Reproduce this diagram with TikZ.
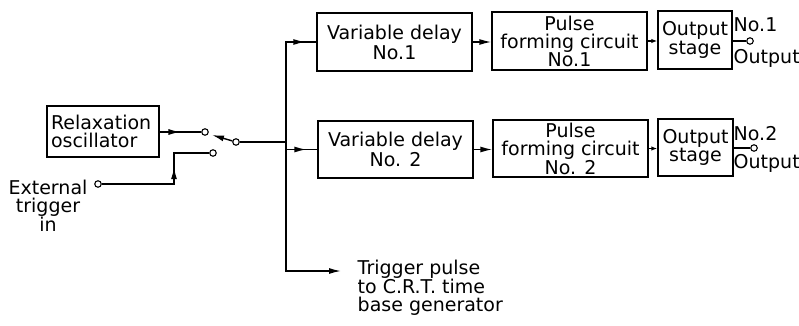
\documentclass[tikz,border=0pt]{standalone}
\usepackage{fontspec}
\setmainfont{DejaVu Sans}
\usetikzlibrary{arrows.meta,decorations.markings,calc}
\begin{document}
\begin{tikzpicture}[x=1pt,y=-1pt, line width=1.4pt,
  blk/.style={draw, rectangle, inner sep=0pt, align=center, font=\fontsize{19}{18.5}\selectfont},
  term/.style={circle, draw, line width=1.1pt, inner sep=0pt, minimum size=6.5pt, fill=white},
  txt/.style={inner sep=0pt, font=\fontsize{19}{18}\selectfont},
  tip/.style={-{Latex[length=12pt,width=6pt]}},
  smalltip/.style={-{Latex[length=6pt,width=4.5pt]}},
  midarrow/.style={decoration={markings, mark=at position #1 with {\arrow{Latex[length=12pt,width=6pt]}}}, postaction={decorate}}]
\useasboundingbox (0,0) rectangle (799,326);

% blocks
\node[blk, minimum width=112pt, minimum height=51pt, align=left, text width=104pt] (osc) at (103,131.5) {Relaxation\\oscillator};
\node[blk, minimum width=155pt, minimum height=58pt, font=\fontsize{19}{20}\selectfont] (vd1) at (394.5,42) {Variable delay\\No.1};
\node[blk, minimum width=155pt, minimum height=57pt, font=\fontsize{19}{20}\selectfont] (vd2) at (395.5,149.5) {Variable delay\\No. 2};
\node[blk, minimum width=155pt, minimum height=58pt, font=\fontsize{19}{18}\selectfont] (pf1) at (569.5,41) {Pulse\\forming circuit\\No.1};
\node[blk, minimum width=155pt, minimum height=57pt, font=\fontsize{19}{18}\selectfont] (pf2) at (570.5,148.5) {Pulse\\forming circuit\\No. 2};
\node[blk, minimum width=74pt, minimum height=58pt] (os1) at (695,40) {Output\\stage};
\node[blk, minimum width=75pt, minimum height=57pt] (os2) at (695.5,147.5) {Output\\stage};

% terminals
\node[term] (c1) at (205,132) {};
\node[term] (p) at (236,142) {};
\node[term] (c2) at (213,153) {};
\node[term] (e) at (98,184) {};
\node[term] (o1) at (750,41) {};
\node[term] (o2) at (754,148) {};

% texts
\node[txt, anchor=west] (no1) at (733,25) {No.1};
\node[txt, anchor=west] (out1) at (733,58) {Output};
\node[txt, anchor=west] (no2) at (733,134) {No.2};
\node[txt, anchor=west] (out2) at (733,163) {Output};
\node[txt, align=center] (ext) at (48,206) {External\\trigger\\in};
\node[txt, align=left, anchor=west] (trg) at (357,288) {Trigger pulse\\to C.R.T. time\\base generator};

% coordinates
\coordinate (j) at (286,142);
\coordinate (tend) at (341,271);
\coordinate (bt) at (212,135);
\coordinate (k2) at (174,153);

% connectors
\draw[midarrow=0.5] (osc.east |- c1) -- (c1);
\draw[tip] (p) -- (bt);
\draw[midarrow=89pt] (e) -| (k2) -- (c2);
\draw (p) -- (j);
\draw[midarrow=-11pt] (j) |- (vd1.west);
\draw[midarrow=-11pt] (j |- vd2.west) -- (vd2.west);
\draw[tip] (j) |- (tend);
\draw[tip] (vd1.east) -- (vd1.east -| pf1.west);
\draw[tip] (vd2.east) -- (vd2.east -| pf2.west);
\draw[smalltip] (pf1.east) -- (pf1.east -| os1.west);
\draw[smalltip] (pf2.east) -- (pf2.east -| os2.west);
\draw (os1.east |- o1) -- (o1);
\draw (os2.east |- o2) -- (o2);
\end{tikzpicture}
\end{document}
